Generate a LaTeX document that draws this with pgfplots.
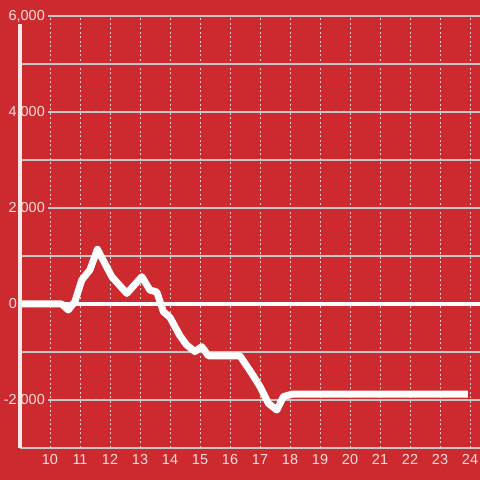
\documentclass[border=0pt]{standalone}
\usepackage{fontspec}
\setmainfont{Liberation Sans}
\usepackage{pgfplots}
\pgfplotsset{compat=1.18}

\definecolor{bgred}{RGB}{204,42,46}
\definecolor{gridgrey}{RGB}{200,200,200}
\definecolor{dotgrid}{RGB}{235,205,205}
\definecolor{labelcol}{RGB}{246,222,222}
\definecolor{axiscol}{RGB}{245,232,232}

\begin{document}
\begin{tikzpicture}
\fill[bgred] (-20bp,-32bp) rectangle (460bp,448bp);
\begin{axis}[
  at={(0,0)}, anchor=south west,
  scale only axis,
  width=460bp, height=432bp,
  xmin=9, xmax=24.333,
  ymin=-3000, ymax=6000,
  enlargelimits=false,
  axis x line*=bottom, axis y line*=left,
  x axis line style={draw=gridgrey, line width=1.5bp, -},
  y axis line style={draw=none},
  xtick={10,...,24},
  ytick={-2000,2000,4000,6000},
  minor ytick={-1000,1000,3000,5000},
  extra y ticks={0},
  extra y tick style={yticklabel style={xshift=-28bp, fill=none}, grid=none},
  major tick length=0pt, minor tick length=0pt,
  xmajorgrids, ymajorgrids, yminorgrids,
  x grid style={dotgrid, line width=1bp, dash pattern=on 2bp off 2.5bp},
  y grid style={gridgrey, line width=1.2bp},
  minor y grid style={gridgrey, line width=1.2bp},
  scaled y ticks=false,
  ticklabel style={font=\fontsize{14.5}{17}\selectfont, text=labelcol},
  yticklabel style={anchor=east, xshift=28bp, fill=bgred, inner sep=3bp},
  xticklabel style={yshift=-3bp},
  /pgf/number format/.cd, 1000 sep={,}, assume math mode=true,
]
\addplot[white, line width=3.5bp, forget plot] coordinates {(9,0) (24.333,0)};
\addplot[white, line width=7bp, line join=round, line cap=butt] coordinates {
(9,0) (10.39,0) (10.61,-125) (10.83,50) (11.06,500) (11.33,710) (11.58,1140)
(12.06,570) (12.56,220) (13.06,570) (13.33,290) (13.56,250) (13.78,-160)
(14.0,-280) (14.33,-660) (14.55,-850) (14.83,-990) (15.06,-890) (15.28,-1080)
(16.33,-1080) (16.72,-1440) (17.0,-1720) (17.28,-2070) (17.56,-2210)
(17.78,-1930) (18.06,-1880) (23.93,-1880)
};
\end{axis}
\draw[axiscol, line width=3bp] (0,0) -- (0,424bp);
\pgfresetboundingbox
\path[use as bounding box] (-20bp,-32bp) rectangle (460bp,448bp);
\end{tikzpicture}
\end{document}
